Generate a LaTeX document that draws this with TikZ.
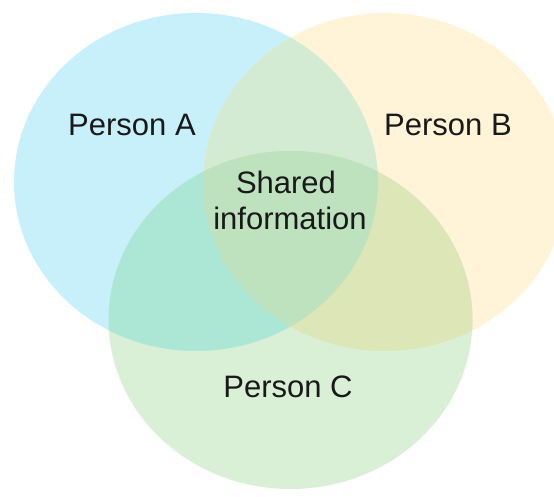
\documentclass[tikz,border=0pt]{standalone}
\usepackage{fontspec}
\setmainfont{Liberation Sans}
\begin{document}
\begin{tikzpicture}[x=1pt,y=1pt,
  lbl/.style={font=\fontsize{31}{37}\selectfont, text=black!90, inner sep=0pt, anchor=base}]
\definecolor{cA}{HTML}{C7F0FB}
\definecolor{cB}{HTML}{FFF3D8}
\definecolor{cC}{HTML}{D9F0D6}
\definecolor{cAB}{HTML}{D4EBD3}
\definecolor{cAC}{HTML}{ACE6D5}
\definecolor{cBC}{HTML}{DCE6B6}
\definecolor{cABC}{HTML}{BEE2BE}
\useasboundingbox (0,0) rectangle (554,496);
\fill[white] (0,0) rectangle (554,496);
\def\shA{(196,314) ellipse [x radius=182, y radius=169]}
\def\shB{(385,314) ellipse [x radius=182, y radius=169]}
\def\shC{(290.5,176) ellipse [x radius=182, y radius=169]}
\fill[cA] \shA;
\fill[cB] \shB;
\fill[cC] \shC;
\begin{scope}
  \clip \shA;
  \fill[cAB] \shB;
  \fill[cAC] \shC;
\end{scope}
\begin{scope}
  \clip \shB;
  \fill[cBC] \shC;
\end{scope}
\begin{scope}
  \clip \shA;
  \clip \shB;
  \fill[cABC] \shC;
\end{scope}
\node[lbl] (pa) at (132,360) {Person A};
\node[lbl] (pb) at (448,360) {Person B};
\node[lbl] (sh) at (286,302) {Shared};
\node[lbl] (inf) at (290,266) {information};
\node[lbl] (pc) at (288,99) {Person C};
\end{tikzpicture}
\end{document}
